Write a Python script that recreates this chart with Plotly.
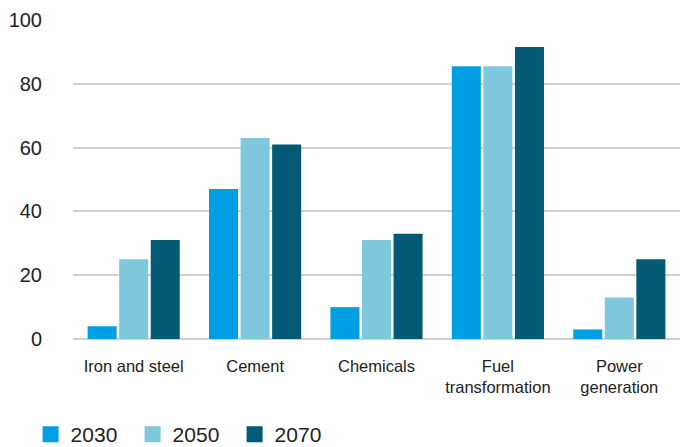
import plotly.graph_objects as go

categories = ["Iron and steel", "Cement", "Chemicals", "Fuel<br>transformation", "Power<br>generation"]
v2030 = [4, 47, 10, 85.5, 3]
v2050 = [25, 63, 31, 85.5, 13]
v2070 = [31, 61, 33, 91.5, 25]
years = ["2030", "2050", "2070"]
colors = ["#009FE3", "#7FC7DD", "#045A74"]

fig = go.Figure()
for name, vals, col in zip(years, [v2030, v2050, v2070], colors):
    fig.add_trace(go.Bar(x=categories, y=vals, name=name, marker_color=col,
                         marker_line_width=0, showlegend=False))
for name, col in zip(years, colors):
    fig.add_trace(go.Scatter(x=[None], y=[None], mode="markers", name=name,
                             marker=dict(symbol="square", size=17, color=col)))

font = "Liberation Sans, Arial, sans-serif"
fig.update_layout(
    width=680, height=447,
    margin=dict(l=73, r=0, t=20, b=108, autoexpand=False),
    paper_bgcolor="white", plot_bgcolor="white",
    barmode="group", bargap=0.22, bargroupgap=0.08,
    font=dict(family=font, color="#222222"),
    yaxis=dict(range=[0, 100], dtick=20, showgrid=True, gridcolor="#d0d0d0", gridwidth=1.5,
               zeroline=True, zerolinecolor="#d0d0d0", zerolinewidth=1.5,
               tickfont=dict(size=20, family=font), ticklabelstandoff=30, showline=False),
    xaxis=dict(tickfont=dict(size=16.5, family=font), showline=False, ticks="",
               ticklabelstandoff=15),
    legend=dict(orientation="h", xref="container", x=0.045, xanchor="left",
                yref="container", y=0.028, yanchor="middle", itemsizing="trace",
                font=dict(size=21, family=font), itemwidth=30, traceorder="normal",
                entrywidth=57, entrywidthmode="pixels"),
)
fig.write_html("out.html")
